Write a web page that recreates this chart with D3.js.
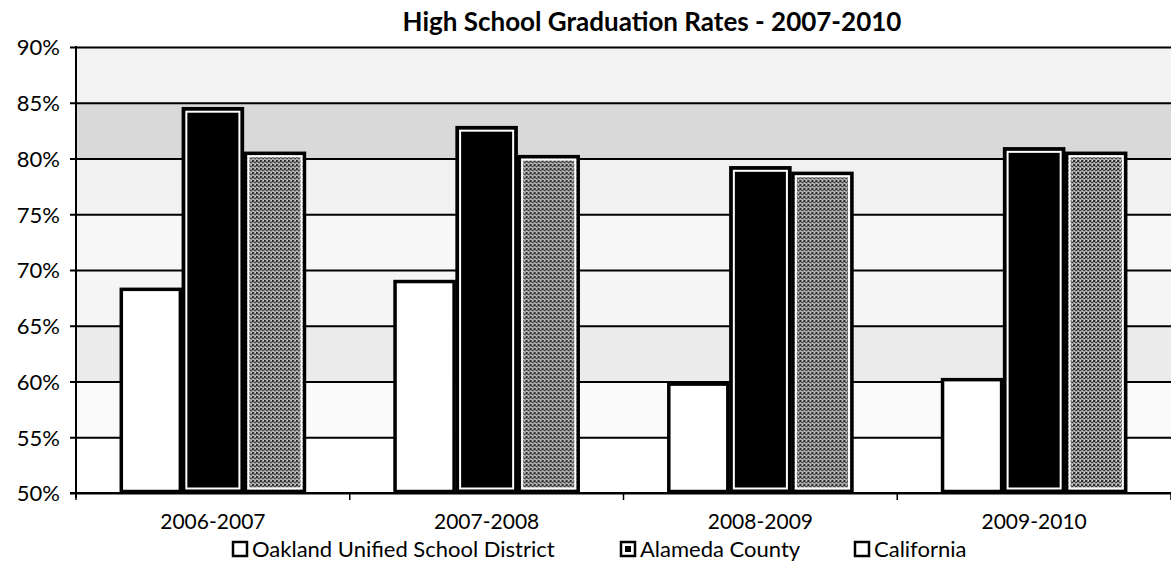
<!DOCTYPE html>
<html>
<head>
<meta charset="utf-8">
<script src="https://cdn.jsdelivr.net/npm/d3@7"></script>
<style>
  body { margin: 0; background: #fff; }
  text { font-family: Lato, "Open Sans", sans-serif; fill: #000; }
</style>
</head>
<body>
<svg width="1171" height="569"></svg>
<script>
const width = 1171,
    height = 569,
    margin = {top: 47, right: 0, bottom: 76, left: 76};

const years = ["2006-2007", "2007-2008", "2008-2009", "2009-2010"];
const seriesNames = ["Oakland Unified School District", "Alameda County", "California"];
const oakland = [68.4, 69.1, 59.9, 60.3];
const alameda = [84.6, 82.9, 79.3, 81.0];
const california = [80.6, 80.3, 78.8, 80.6];
const yTicks = [50, 55, 60, 65, 70, 75, 80, 85, 90];
// scanned background tint of each 5% band, keyed by its lower tick
const bandShade = {50: "#ffffff", 55: "#fafafa", 60: "#ebebeb", 65: "#f5f5f5",
                   70: "#f7f7f7", 75: "#f1f1f1", 80: "#d9d9d9", 85: "#f3f3f3"};

const seriesValues = [oakland, alameda, california];

const svg = d3.select("svg");
const defs = svg.append("defs");

// halftone-ish fill for the California bars
const pat = defs.append("pattern")
    .attr("id", "halftone")
    .attr("width", 4).attr("height", 4)
    .attr("patternUnits", "userSpaceOnUse");
pat.append("rect").attr("width", 4).attr("height", 4).attr("fill", "#9a9a9a");
pat.append("rect").attr("width", 2).attr("height", 2).attr("fill", "#2a2a2a");
pat.append("rect").attr("x", 2).attr("y", 2).attr("width", 2).attr("height", 1).attr("fill", "#404040");
pat.append("rect").attr("x", 3).attr("y", 0).attr("width", 1).attr("height", 1).attr("fill", "#e6e6e6");
pat.append("rect").attr("x", 1).attr("y", 3).attr("width", 1).attr("height", 1).attr("fill", "#d0d0d0");

const x0 = d3.scaleBand()
    .domain(years)
    .range([margin.left, width - margin.right])
    .paddingInner(0.32)
    .paddingOuter(0.16);

const x1 = d3.scaleBand()
    .domain(d3.range(seriesNames.length))
    .range([0, x0.bandwidth()]);

const y = d3.scaleLinear()
    .domain([50, 90])
    .range([height - margin.bottom, margin.top]);

// background bands
svg.append("g").selectAll("rect")
    .data(yTicks.slice(0, -1))
    .enter().append("rect")
    .attr("x", margin.left)
    .attr("y", d => y(d + 5))
    .attr("width", width - margin.left)
    .attr("height", d => y(d) - y(d + 5))
    .attr("fill", d => bandShade[d]);

// gridlines + y axis
const yAxis = svg.append("g")
    .attr("transform", "translate(" + margin.left + ",0)")
    .call(d3.axisLeft(y).tickValues(yTicks).tickFormat(d => d + "%")
        .tickSize(-(width - margin.left)).tickPadding(16));
yAxis.select(".domain").remove();
yAxis.selectAll(".tick line")
    .attr("x1", -6)
    .attr("stroke", "#000")
    .attr("stroke-width", 2);
yAxis.selectAll(".tick text")
    .style("font-size", "22px")
    .attr("dy", "0.36em");

svg.append("line")
    .attr("x1", margin.left).attr("x2", margin.left)
    .attr("y1", y(90) - 1).attr("y2", y(50) + 5)
    .attr("stroke", "#000").attr("stroke-width", 2);

// x axis ticks between categories
const step = x0.step();
const bounds = d3.range(years.length + 1).map(i => margin.left + i * step);
svg.append("g").selectAll("line")
    .data(bounds)
    .enter().append("line")
    .attr("x1", d => d).attr("x2", d => d)
    .attr("y1", y(50)).attr("y2", y(50) + 7)
    .attr("stroke", "#000").attr("stroke-width", 1.5);

svg.append("g").selectAll("text")
    .data(years)
    .enter().append("text")
    .attr("x", d => x0(d) + x0.bandwidth() / 2)
    .attr("y", 529)
    .attr("text-anchor", "middle")
    .style("font-size", "21px")
    .text(d => d);

// bars
const groups = svg.append("g").selectAll("g")
    .data(years)
    .enter().append("g")
    .attr("transform", d => "translate(" + x0(d) + ",0)");

const fills = ["#fff", "#000", "url(#halftone)"];

const bar = groups.selectAll("g")
    .data((d, i) => seriesValues.map((s, k) => ({k: k, v: s[i]})))
    .enter().append("g");

bar.append("rect")
    .attr("x", d => x1(d.k) + 1.5)
    .attr("y", d => y(d.v) + 1.5)
    .attr("width", x1.bandwidth() - 3)
    .attr("height", d => y(50) - y(d.v) - 3)
    .attr("fill", d => fills[d.k])
    .attr("stroke", "#000")
    .attr("stroke-width", 3.5);

bar.filter(d => d.k > 0).append("rect")
    .attr("x", d => x1(d.k) + 4.5)
    .attr("y", d => y(d.v) + 4.5)
    .attr("width", x1.bandwidth() - 9)
    .attr("height", d => y(50) - y(d.v) - 9)
    .attr("fill", "none")
    .attr("stroke", "#fff")
    .attr("stroke-width", 2);

// baseline on top of bars
svg.append("line")
    .attr("x1", margin.left - 6).attr("x2", width)
    .attr("y1", y(50)).attr("y2", y(50))
    .attr("stroke", "#000").attr("stroke-width", 2);

// title
svg.append("text")
    .attr("x", 652)
    .attr("y", 31)
    .attr("text-anchor", "middle")
    .style("font-size", "26px")
    .style("font-weight", "bold")
    .text("High School Graduation Rates - 2007-2010");

// legend
const legendX = [232, 620, 854];
const legend = svg.append("g").selectAll("g")
    .data(seriesNames)
    .enter().append("g")
    .attr("transform", (d, i) => "translate(" + legendX[i] + ",557)");

legend.append("rect")
    .attr("x", 1).attr("y", -15)
    .attr("width", 14).attr("height", 14)
    .attr("fill", "#fff")
    .attr("stroke", "#000")
    .attr("stroke-width", 2.5);

legend.filter((d, i) => i === 1).append("rect")
    .attr("x", 5).attr("y", -11)
    .attr("width", 6).attr("height", 6)
    .attr("fill", "#000");

legend.append("text")
    .attr("x", 20)
    .attr("y", 0)
    .style("font-size", "22px")
    .text(d => d);
</script>
</body>
</html>
